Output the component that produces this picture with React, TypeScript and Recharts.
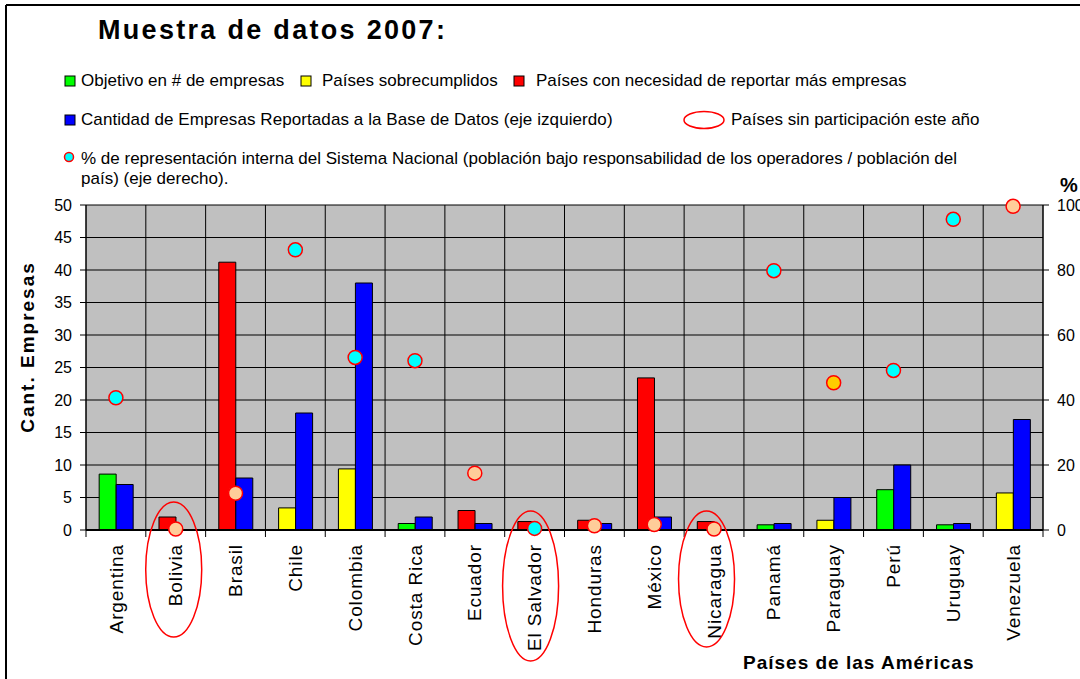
import React from 'react';
import { ComposedChart, Bar, Scatter, XAxis, YAxis, CartesianGrid } from 'recharts';

// ---------- data ----------
const paises = [
  'Argentina', 'Bolivia', 'Brasil', 'Chile', 'Colombia', 'Costa Rica', 'Ecuador', 'El Salvador',
  'Honduras', 'México', 'Nicaragua', 'Panamá', 'Paraguay', 'Perú', 'Uruguay', 'Venezuela',
];
// first bar of each country (height) and which legend group it belongs to
const objetivo = [8.6, 2.0, 41.2, 3.4, 9.4, 1.0, 3.0, 1.3, 1.5, 23.4, 1.3, 0.8, 1.5, 6.2, 0.8, 5.7];
const grupoObjetivo = [
  'objetivo', 'necesidad', 'necesidad', 'sobrecumplido', 'sobrecumplido', 'objetivo', 'necesidad', 'necesidad',
  'necesidad', 'necesidad', 'necesidad', 'objetivo', 'sobrecumplido', 'objetivo', 'objetivo', 'sobrecumplido',
];
// blue bar: companies reported
const reportadas = [7, 0, 8, 18, 38, 2, 1, 0, 1, 2, 0, 1, 5, 10, 1, 17];
// % internal representation (right axis)
const representacion = [40.7, 0.3, 11.3, 86.2, 53.1, 52.1, 17.5, 0.5, 1.3, 1.7, 0.3, 79.8, 45.3, 49.1, 95.6, 99.6];
const grupoRepresentacion = ['a', 'b', 'b', 'a', 'a', 'a', 'b', 'a', 'b', 'b', 'b', 'a', 'c', 'a', 'a', 'b'];
const sinParticipacion = ['Bolivia', 'El Salvador', 'Nicaragua'];
const ticksIzq = [0, 5, 10, 15, 20, 25, 30, 35, 40, 45, 50];
const ticksDer = [0, 20, 40, 60, 80, 100];

const rows = paises.map((pais, i) => ({
  pais,
  verde: grupoObjetivo[i] === 'objetivo' ? objetivo[i] : 0,
  amarillo: grupoObjetivo[i] === 'sobrecumplido' ? objetivo[i] : 0,
  rojo: grupoObjetivo[i] === 'necesidad' ? objetivo[i] : 0,
  azul: reportadas[i],
  pct: representacion[i],
  grupoPct: grupoRepresentacion[i],
}));

// ---------- styles ----------
const FONT = '"Liberation Sans", Arial, Helvetica, sans-serif';
const W = 1080;
const H = 679;
const LEFT_W = 86;
const RIGHT_W = 37;
const TOP = 205;
const XAXIS_H = 149;
const PLOT_W = W - LEFT_W - RIGHT_W;

const dotColors: Record<string, string> = { a: '#00FFFF', b: '#FFCC99', c: '#FFCC00' };
const ellipseStyle: Record<string, { dx: number; top: number; bottom: number }> = {
  Bolivia: { dx: -2, top: -28, bottom: 107 },
  'El Salvador': { dx: -4, top: -19, bottom: 131 },
  Nicaragua: { dx: -7.5, top: -19, bottom: 117 },
};

const TickPais = (props: any) => {
  const { x, y, payload, index, visibleTicksCount } = props;
  const n = visibleTicksCount || paises.length;
  const plotW = typeof props.width === 'number' && props.width > 100 ? props.width : PLOT_W;
  const half = plotW / n / 2;
  const ly = y + 14;
  const el = sinParticipacion.includes(payload.value) ? ellipseStyle[payload.value] : null;
  return (
    <g>
      <line x1={x - half} y1={y} x2={x - half} y2={y + 7} stroke="#000" strokeWidth={1} />
      {index === n - 1 && <line x1={x + half} y1={y} x2={x + half} y2={y + 7} stroke="#000" strokeWidth={1} />}
      <text
        x={x}
        y={ly}
        transform={`rotate(-90, ${x}, ${ly})`}
        textAnchor="end"
        dy="0.35em"
        fontSize={19}
        letterSpacing={0.9}
        fill="#000"
        fontFamily={FONT}
      >
        {payload.value}
      </text>
      {el && (
        <ellipse
          cx={x + el.dx}
          cy={y + (el.top + el.bottom) / 2}
          rx={28}
          ry={(el.bottom - el.top) / 2}
          fill="none"
          stroke="#FF0000"
          strokeWidth={1.5}
        />
      )}
    </g>
  );
};

const Punto = (props: any) => {
  const { cx, cy, payload } = props;
  if (cx == null || cy == null) return <g />;
  return <circle cx={cx} cy={cy} r={7} fill={dotColors[payload.grupoPct]} stroke="#FF0000" strokeWidth={1.5} />;
};

const LegendSquare = ({ x, y, color }: { x: number; y: number; color: string }) => (
  <rect x={x} y={y} width={10} height={10} fill={color} stroke="#000" strokeWidth={1} />
);

export default function App() {
  const txt = { fontFamily: FONT, fontSize: 17, fill: '#000' } as const;
  return (
    <div style={{ position: 'absolute', left: 0, top: 0, width: W, height: H, background: '#fff', overflow: 'hidden', fontFamily: FONT }}>
      <svg width={W} height={H} style={{ position: 'absolute', left: 0, top: 0 }}>
        <line x1={6} y1={5} x2={W} y2={5} stroke="#000" strokeWidth={2} />
        <line x1={6} y1={5} x2={6} y2={H} stroke="#000" strokeWidth={2} />
        <text x={98} y={39} fontFamily={FONT} fontSize={27} fontWeight="bold" letterSpacing={2.3} fill="#000">
          Muestra de datos 2007:
        </text>
        {/* legend row 1 */}
        <LegendSquare x={65} y={76} color="#00FF00" />
        <text x={81} y={86} {...txt}>Objetivo en # de empresas</text>
        <LegendSquare x={301} y={76} color="#FFFF00" />
        <text x={322} y={86} {...txt}>Países sobrecumplidos</text>
        <LegendSquare x={514} y={76} color="#FF0000" />
        <text x={536} y={86} {...txt}>Países con necesidad de reportar más empresas</text>
        {/* legend row 2 */}
        <LegendSquare x={65} y={115} color="#0000FF" />
        <text x={81} y={125} {...txt} letterSpacing={0.08}>Cantidad de Empresas Reportadas a la Base de Datos (eje izquierdo)</text>
        <ellipse cx={704} cy={120} rx={20} ry={8.5} fill="#fff" stroke="#FF0000" strokeWidth={1.5} />
        <text x={731} y={125} {...txt}>Países sin participación este año</text>
        {/* legend row 3 */}
        <circle cx={69} cy={157} r={4.5} fill="#00FFFF" stroke="#FF0000" strokeWidth={1.5} />
        <text x={81} y={164} {...txt}>
          % de representación interna del Sistema Nacional (población bajo responsabilidad de los operadores / población del
        </text>
        <text x={81} y={184} {...txt}>país) (eje derecho).</text>
        {/* axis titles */}
        <text
          x={33.5}
          y={347}
          transform="rotate(-90, 33.5, 347)"
          textAnchor="middle"
          fontFamily={FONT}
          fontSize={19}
          fontWeight="bold"
          letterSpacing={2}
          fill="#000"
        >
          Cant. Empresas
        </text>
        <text x={1060} y={192} fontFamily={FONT} fontSize={20} fontWeight="bold" fill="#000">%</text>
        <text x={743} y={669} fontFamily={FONT} fontSize={19} fontWeight="bold" letterSpacing={1} fill="#000">
          Países de las Américas
        </text>
      </svg>
      <div style={{ position: 'absolute', left: 0, top: 0 }}>
        <ComposedChart
          width={W}
          height={H}
          data={rows}
          margin={{ top: TOP, right: 0, bottom: 0, left: 0 }}
          barCategoryGap="22%"
          barGap={0}
          style={{ fontFamily: FONT }}
        >
          <CartesianGrid
            yAxisId="left"
            fill="#C0C0C0"
            fillOpacity={1}
            stroke="#000"
            strokeWidth={1}
            verticalCoordinatesGenerator={({ offset }: any) =>
              paises.map((_, i) => offset.left + (i * offset.width) / paises.length).concat([offset.left + offset.width])
            }
          />
          <XAxis
            dataKey="pais"
            height={XAXIS_H}
            interval={0}
            tickLine={false}
            tickSize={0}
            tickMargin={0}
            axisLine={{ stroke: '#000', strokeWidth: 2 }}
            tick={<TickPais />}
          />
          <YAxis
            yAxisId="left"
            orientation="left"
            width={LEFT_W}
            domain={[0, 50]}
            ticks={ticksIzq}
            interval={0}
            tickSize={6}
            tickMargin={8}
            tickLine={{ stroke: '#000' }}
            axisLine={{ stroke: '#000' }}
            tick={{ fontSize: 16, fill: '#000', fontFamily: FONT }}
          />
          <YAxis
            yAxisId="right"
            orientation="right"
            width={RIGHT_W}
            domain={[0, 100]}
            ticks={ticksDer}
            interval={0}
            tickSize={6}
            tickMargin={8}
            tickLine={{ stroke: '#000' }}
            axisLine={{ stroke: '#000' }}
            tick={{ fontSize: 16, fill: '#000', fontFamily: FONT, textAnchor: 'start' }}
          />
          <Bar yAxisId="left" dataKey="verde" stackId="obj" fill="#00FF00" stroke="#000" strokeWidth={1} isAnimationActive={false} />
          <Bar yAxisId="left" dataKey="amarillo" stackId="obj" fill="#FFFF00" stroke="#000" strokeWidth={1} isAnimationActive={false} />
          <Bar yAxisId="left" dataKey="rojo" stackId="obj" fill="#FF0000" stroke="#000" strokeWidth={1} isAnimationActive={false} />
          <Bar yAxisId="left" dataKey="azul" fill="#0000FF" stroke="#000" strokeWidth={1} isAnimationActive={false} />
          <Scatter yAxisId="right" dataKey="pct" shape={<Punto />} isAnimationActive={false} />
        </ComposedChart>
      </div>
    </div>
  );
}
